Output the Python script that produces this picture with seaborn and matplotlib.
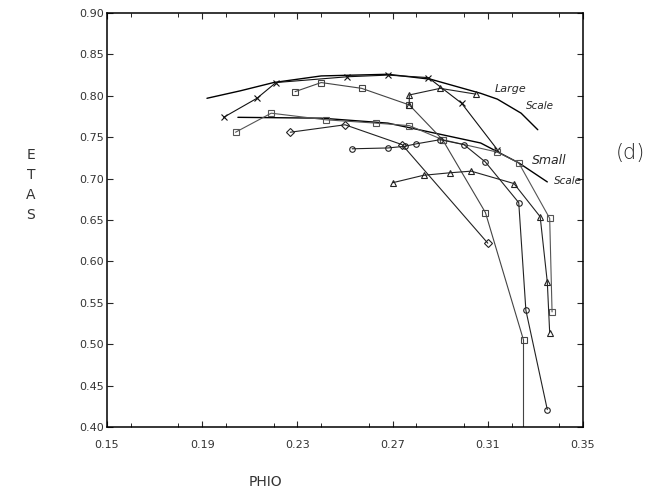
import matplotlib
matplotlib.use("Agg")
import matplotlib.pyplot as plt
from matplotlib.ticker import MultipleLocator
import seaborn as sns

# ---- data ----
large_x = [0.192, 0.206, 0.220, 0.240, 0.268, 0.286, 0.307, 0.314, 0.324, 0.331]
large_y = [0.797, 0.806, 0.816, 0.824, 0.826, 0.820, 0.803, 0.796, 0.779, 0.759]

small_x = [0.205, 0.240, 0.268, 0.286, 0.307, 0.323, 0.335]
small_y = [0.774, 0.773, 0.767, 0.756, 0.743, 0.719, 0.696]

s1_x = [0.199, 0.213, 0.221, 0.251, 0.268, 0.285, 0.299, 0.314]
s1_y = [0.774, 0.797, 0.816, 0.823, 0.825, 0.822, 0.791, 0.735]

s2_x = [0.229, 0.240, 0.257, 0.277, 0.291, 0.309, 0.325, 0.325]
s2_y = [0.805, 0.816, 0.809, 0.789, 0.747, 0.659, 0.505, 0.390]

s3_x = [0.227, 0.250, 0.274, 0.310]
s3_y = [0.756, 0.765, 0.741, 0.622]

s4_x = [0.204, 0.219, 0.242, 0.263, 0.277, 0.291, 0.314, 0.323, 0.336, 0.337]
s4_y = [0.756, 0.779, 0.771, 0.767, 0.764, 0.747, 0.732, 0.719, 0.652, 0.539]

s5_x = [0.253, 0.268, 0.275, 0.280, 0.290, 0.300, 0.309, 0.323, 0.326, 0.335]
s5_y = [0.736, 0.737, 0.739, 0.742, 0.747, 0.741, 0.720, 0.671, 0.541, 0.421]

s6_x = [0.277, 0.277, 0.290, 0.305]
s6_y = [0.789, 0.801, 0.809, 0.802]

s7_x = [0.270, 0.283, 0.294, 0.303, 0.321, 0.332, 0.335, 0.336]
s7_y = [0.695, 0.704, 0.707, 0.709, 0.694, 0.654, 0.575, 0.514]

x_ticks = [0.15, 0.19, 0.23, 0.27, 0.31, 0.35]
y_ticks = [0.40, 0.45, 0.50, 0.55, 0.60, 0.65, 0.70, 0.75, 0.80, 0.85, 0.90]

# ---- plotting ----
sns.set_style("ticks")
plt.rcParams["font.family"] = ["DejaVu Sans"]

W, H = 660, 499
fig = plt.figure(figsize=(W / 100, H / 100), dpi=100)
ax = fig.add_axes([107 / W, 1 - 427 / H, (583 - 107) / W, (427 - 13) / H])

# smooth scale curves
for xs, ys in [(large_x, large_y), (small_x, small_y)]:
    sns.lineplot(x=xs, y=ys, ax=ax, sort=False, estimator=None,
                 color="black", linewidth=1.0)

series = [
    (s1_x, s1_y, "x", "#111111"),
    (s2_x, s2_y, "s", "#444444"),
    (s3_x, s3_y, "D", "#222222"),
    (s4_x, s4_y, "s", "#555555"),
    (s5_x, s5_y, "o", "#222222"),
    (s6_x, s6_y, "^", "#222222"),
    (s7_x, s7_y, "^", "#222222"),
]
for xs, ys, mk, col in series:
    sns.lineplot(x=xs, y=ys, ax=ax, sort=False, estimator=None,
                 color=col, linewidth=0.8, marker=mk, markersize=4,
                 markerfacecolor="none", markeredgecolor=col,
                 markeredgewidth=0.8)

ax.set_xlim(0.15, 0.35)
ax.set_ylim(0.40, 0.90)
ax.set_xticks(x_ticks)
ax.set_yticks(y_ticks)
ax.xaxis.set_minor_locator(MultipleLocator(0.02))
ax.set_xticklabels([f"{v:.2f}" for v in x_ticks])
ax.set_yticklabels([f"{v:.2f}" for v in y_ticks])
ax.tick_params(axis="both", which="major", direction="in", length=4, width=0.8,
               labelsize=8, labelcolor="#333333", top=True, right=True)
ax.tick_params(axis="x", which="minor", direction="in", length=3, width=0.7,
               top=True, bottom=True)
ax.tick_params(axis="y", pad=2)
ax.tick_params(axis="x", which="major", pad=9)
for sp in ax.spines.values():
    sp.set_visible(True)
    sp.set_linewidth(1.1)
    sp.set_color("black")
ax.set_xlabel("")
ax.set_ylabel("")

# annotations
def ftext(px, py, s, **kw):
    fig.text(px / W, 1 - py / H, s, **kw)

ftext(511, 89, "Large", fontsize=8, style="italic", ha="center", va="center")
ftext(540, 106, "Scale", fontsize=7.5, style="italic", ha="center", va="center")
ftext(549, 160, "Small", fontsize=9, style="italic", ha="center", va="center")
ftext(568, 181, "Scale", fontsize=7.5, style="italic", ha="center", va="center")
ftext(630, 153, "(d)", fontsize=15, ha="center", va="center",
      fontweight="light", color="#222222")

ftext(265, 482, "PHIO", fontsize=10, ha="center", va="center",
      color="#333333")
ftext(31, 185, "E\nT\nA\nS", fontsize=10, ha="center", va="center",
      color="#333333", linespacing=1.55)

fig.savefig("out.png", dpi=100)
